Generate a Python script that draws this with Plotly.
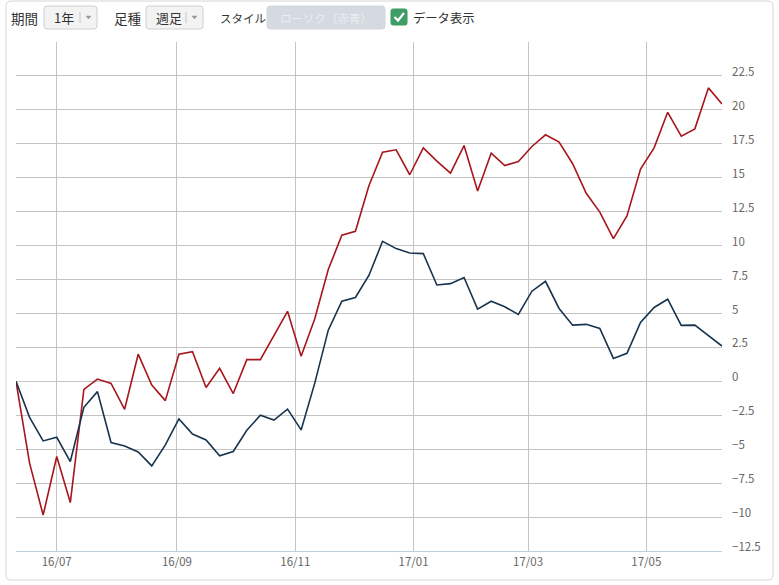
import plotly.graph_objects as go
import pandas as pd

W, H = 779, 585

# ---- data ----
dates = pd.date_range("2016-06-10", periods=53, freq="7D")
red_values = [0, -6.03, -9.85, -5.54, -8.93, -0.59, 0.17, -0.15, -2.06, 2.0,
              -0.27, -1.42, 2.0, 2.18, -0.46, 0.96, -0.9, 1.6, 1.6, 3.4,
              5.16, 1.85, 4.6, 8.24, 10.76, 11.05, 14.43, 16.88, 17.06, 15.22,
              17.2, 16.22, 15.34, 17.37, 14.02, 16.81, 15.9, 16.2, 17.3, 18.16,
              17.62, 16.03, 13.85, 12.47, 10.51, 12.18, 15.64, 17.2, 19.82, 18.06,
              18.6, 21.62, 20.44]
blue_values = [0, -2.65, -4.39, -4.12, -5.91, -1.91, -0.76, -4.51, -4.76, -5.2,
               -6.23, -4.68, -2.77, -3.88, -4.32, -5.49, -5.17, -3.6, -2.5, -2.85,
               -2.05, -3.58, -0.15, 3.77, 5.9, 6.18, 7.82, 10.32, 9.78, 9.46,
               9.41, 7.1, 7.2, 7.65, 5.32, 5.9, 5.49, 4.93, 6.64, 7.37,
               5.37, 4.14, 4.2, 3.9, 1.69, 2.06, 4.34, 5.44, 6.05, 4.12,
               4.14, 3.35, 2.6]
x_tick_dates = ["2016-07-01", "2016-09-01", "2016-11-01", "2017-01-01", "2017-03-01", "2017-05-01"]
x_tick_labels = ["16/07", "16/09", "16/11", "17/01", "17/03", "17/05"]
y_tick_values = [-12.5, -10, -7.5, -5, -2.5, 0, 2.5, 5, 7.5, 10, 12.5, 15, 17.5, 20, 22.5]
y_tick_labels = ["−12.5", "−10", "−7.5", "−5", "−2.5", "0", "2.5", "5", "7.5", "10",
                 "12.5", "15", "17.5", "20", "22.5"]

# toolbar texts
label_period = "期間"
value_period = "1年"
label_kind = "足種"
value_kind = "週足"
label_style = "スタイル"
value_style = "ローソク（赤青）"
label_show = "データ表示"


def px(x):
    return x / W


def py(y):
    return 1 - y / H


def rrect(x0, y0, x1, y1, r):
    X0, X1 = px(x0), px(x1)
    Y0, Y1 = py(y0), py(y1)
    rx, ry = r / W, r / H
    return (f"M {X0+rx},{Y0} L {X1-rx},{Y0} Q {X1},{Y0} {X1},{Y0-ry} "
            f"L {X1},{Y1+ry} Q {X1},{Y1} {X1-rx},{Y1} L {X0+rx},{Y1} "
            f"Q {X0},{Y1} {X0},{Y1+ry} L {X0},{Y0-ry} Q {X0},{Y0} {X0+rx},{Y0} Z")


fig = go.Figure()
fig.add_trace(go.Scatter(x=dates, y=red_values, mode="lines",
                         line=dict(color="#a8161d", width=1.6), hoverinfo="skip"))
fig.add_trace(go.Scatter(x=dates, y=blue_values, mode="lines",
                         line=dict(color="#17344f", width=1.6), hoverinfo="skip"))

font_jp = "Noto Sans CJK JP, Noto Sans, sans-serif"

fig.update_layout(
    width=W, height=H,
    margin=dict(l=0, r=0, t=0, b=0),
    paper_bgcolor="white", plot_bgcolor="white",
    showlegend=False,
    xaxis=dict(
        domain=[px(16), px(722)],
        range=[dates[0], dates[-1]],
        tickvals=x_tick_dates, ticktext=x_tick_labels,
        showgrid=True, gridcolor="#c4c4c4", gridwidth=1,
        showline=True, linecolor="#c0d0e0", linewidth=1,
        ticks="", zeroline=False,
        tickfont=dict(family=font_jp, size=11.5, color="#666666"),
        ticklabelstandoff=0,
        automargin=False,
    ),
    yaxis=dict(
        domain=[py(551), py(42)],
        range=[-12.5, 25],
        side="right",
        tickvals=y_tick_values, ticktext=y_tick_labels,
        showgrid=True, gridcolor="#c4c4c4", gridwidth=1,
        zeroline=False, showline=False, ticks="",
        tickfont=dict(family=font_jp, size=11.5, color="#666666"),
        ticklabelshift=-4, ticklabelstandoff=9,
        automargin=False,
    ),
)

shapes = []
annotations = []

# card border
shapes.append(dict(type="path", xref="paper", yref="paper",
                   path=rrect(6, 1, 773, 580, 5),
                   line=dict(color="#d6d6d6", width=1), fillcolor="rgba(0,0,0,0)",
                   layer="below"))


def text(x, y, s, size=13.5, color="#333333", anchor="left"):
    annotations.append(dict(x=px(x), y=py(y), xref="paper", yref="paper", text=s,
                            showarrow=False, xanchor=anchor, yanchor="middle",
                            font=dict(family=font_jp, size=size, color=color)))


def dropdown(x0, x1, label):
    shapes.append(dict(type="path", xref="paper", yref="paper",
                       path=rrect(x0, 6, x1, 29, 3),
                       line=dict(color="#cfcfcf", width=1), fillcolor="#f3f3f3"))
    shapes.append(dict(type="line", xref="paper", yref="paper",
                       x0=px(x1 - 17), x1=px(x1 - 17), y0=py(12), y1=py(23),
                       line=dict(color="#c8c8c8", width=1)))
    shapes.append(dict(type="path", xref="paper", yref="paper",
                       path=f"M {px(x1-11)},{py(16)} L {px(x1-6)},{py(16)} L {px(x1-8.5)},{py(19)} Z",
                       line=dict(color="#999999", width=0.5), fillcolor="#999999"))
    text(x0 + 8, 17.5, label, size=13)


text(9, 17.5, label_period)
dropdown(44, 97, value_period)
text(112, 17.5, label_kind)
dropdown(146, 203, value_kind)
text(218, 17.5, label_style, size=11.5)
shapes.append(dict(type="path", xref="paper", yref="paper",
                   path=rrect(267, 6, 385, 29, 3),
                   line=dict(color="#d2d7dd", width=1), fillcolor="#d5dae0"))
text(326, 17.5, value_style, size=11.5, color="#e9edf1", anchor="center")
# checkbox
shapes.append(dict(type="path", xref="paper", yref="paper",
                   path=rrect(391, 9, 407, 25, 2),
                   line=dict(color="#3a9a62", width=1), fillcolor="#3e9e66"))
shapes.append(dict(type="path", xref="paper", yref="paper",
                   path=f"M {px(394.5)},{py(17)} L {px(398)},{py(20.5)} L {px(404)},{py(13)}",
                   line=dict(color="white", width=2.2)))
text(411, 17.5, label_show, size=12.3)

fig.update_layout(shapes=shapes, annotations=annotations)
fig.write_html("out.html", config={"displayModeBar": False},
               post_script="document.body.style.margin='0';document.body.style.overflow='hidden';")
